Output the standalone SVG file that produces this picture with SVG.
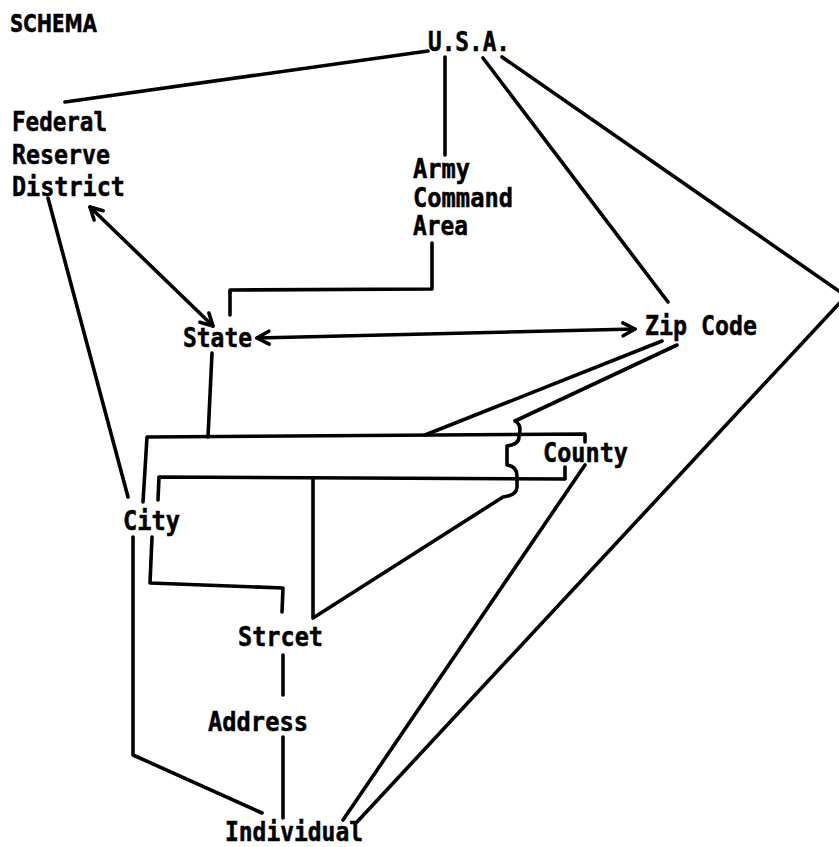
<svg xmlns="http://www.w3.org/2000/svg" width="839" height="847" viewBox="0 0 839 847">
  <style>
    .lbl { font-family: "DejaVu Sans Mono", "Liberation Mono", monospace; font-weight: bold; font-size: 26px; fill: #000; stroke: #000; stroke-width: 0.5; }
    .title { font-family: "DejaVu Sans", "Liberation Sans", sans-serif; font-weight: bold; font-size: 25px; fill: #000; stroke: #000; stroke-width: 0.5; }
    .ln { fill: none; stroke: #000; stroke-width: 3.6; stroke-linecap: round; stroke-linejoin: round; }
  </style>
  <defs>
    <marker id="v" viewBox="0 0 16 16" refX="14" refY="8" markerWidth="16" markerHeight="16" markerUnits="userSpaceOnUse" orient="auto-start-reverse" overflow="visible">
      <path d="M2,1.5 L14,8 L2,14.5" fill="none" stroke="#000" stroke-width="3.6" stroke-linecap="round" stroke-linejoin="round"/>
    </marker>
  </defs>
  <rect width="839" height="847" fill="#fff"/>

  <text class="title" x="10" y="32" textLength="87" lengthAdjust="spacingAndGlyphs">SCHEMA</text>

  <!-- connectors -->
  <g id="connectors">
    <path class="ln" d="M65,102 L428,51"/>
    <path class="ln" d="M445,57 L445,155"/>
    <path class="ln" d="M432,243 L432,289 L230,290 L230,315"/>
    <path class="ln" d="M90,207 L213,326" marker-start="url(#v)" marker-end="url(#v)"/>
    <path class="ln" d="M257,338 L635,329" marker-start="url(#v)" marker-end="url(#v)"/>
    <path class="ln" d="M483,58 L668,302"/>
    <path class="ln" d="M502,57 L846,296 L357,822"/>
    <path class="ln" d="M662,341 L425,435"/>
    <path class="ln" d="M677,345 L515,421 C519,423 520,426 520,430 L519,437 C519,442 514,445 507,446 L507,465 C514,466 517,470 517,476 L517,487 C517,493 511,496 503,497 L313,618 L313,478"/>
    <path class="ln" d="M212,353 L208,437"/>
    <path class="ln" d="M585,442 L585,434 L147,437 L143,502"/>
    <path class="ln" d="M565,467 L565,479 L159,477 L158,500"/>
    <path class="ln" d="M48,198 L128,497"/>
    <path class="ln" d="M152,537 L150,583 L283,588 L282,612"/>
    <path class="ln" d="M133,537 L133,755 L262,813"/>
    <path class="ln" d="M283,655 L283,695"/>
    <path class="ln" d="M283,737 L283,818"/>
    <path class="ln" d="M585,465 L343,820"/>
  </g>

  <!-- nodes -->
  <g id="usa"><text class="lbl" x="428" y="51" textLength="82" lengthAdjust="spacingAndGlyphs">U.S.A.</text></g>
  <g id="federal-reserve-district">
    <text class="lbl" x="12" y="131" textLength="95" lengthAdjust="spacingAndGlyphs">Federal</text>
    <text class="lbl" x="12" y="164" textLength="98" lengthAdjust="spacingAndGlyphs">Reserve</text>
    <text class="lbl" x="12" y="196" textLength="113" lengthAdjust="spacingAndGlyphs">District</text>
  </g>
  <g id="army-command-area">
    <text class="lbl" x="413" y="178" textLength="57" lengthAdjust="spacingAndGlyphs">Army</text>
    <text class="lbl" x="413" y="207" textLength="100" lengthAdjust="spacingAndGlyphs">Command</text>
    <text class="lbl" x="413" y="235" textLength="55" lengthAdjust="spacingAndGlyphs">Area</text>
  </g>
  <g id="state"><text class="lbl" x="183" y="347" textLength="69" lengthAdjust="spacingAndGlyphs">State</text></g>
  <g id="zip-code"><text class="lbl" x="645" y="335" textLength="112" lengthAdjust="spacingAndGlyphs">Zip Code</text></g>
  <g id="county"><text class="lbl" x="543" y="462" textLength="85" lengthAdjust="spacingAndGlyphs">County</text></g>
  <g id="city"><text class="lbl" x="123" y="530" textLength="57" lengthAdjust="spacingAndGlyphs">City</text></g>
  <g id="street"><text class="lbl" x="238" y="646" textLength="85" lengthAdjust="spacingAndGlyphs">Strcet</text></g>
  <g id="address"><text class="lbl" x="208" y="731" textLength="100" lengthAdjust="spacingAndGlyphs">Address</text></g>
  <g id="individual"><text class="lbl" x="225" y="841" textLength="138" lengthAdjust="spacingAndGlyphs">Individual</text></g>
</svg>
